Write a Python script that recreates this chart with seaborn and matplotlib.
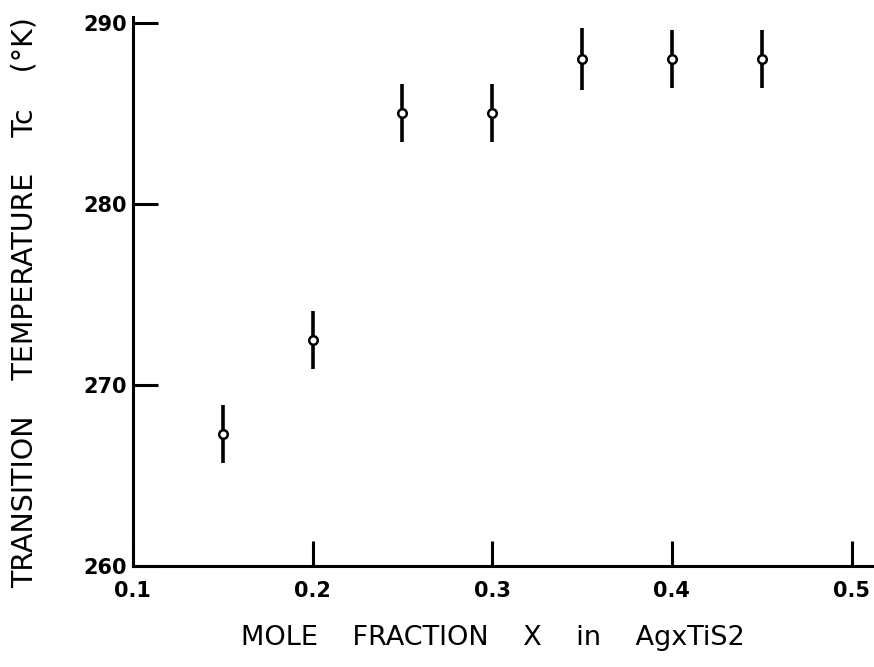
import matplotlib
matplotlib.use("Agg")
import matplotlib.pyplot as plt
import seaborn as sns
import numpy as np
import pandas as pd

# Data
mole_fraction = [0.15, 0.20, 0.25, 0.30, 0.35, 0.40, 0.45]
tc_kelvin = [267.3, 272.5, 285.0, 285.0, 288.0, 288.0, 288.0]
tc_error = [1.6, 1.6, 1.6, 1.6, 1.7, 1.6, 1.6]
x_ticks = [0.1, 0.2, 0.3, 0.4, 0.5]
x_tick_labels = ["0.1", "0.2", "0.3", "0.4", "0.5"]
y_ticks = [260, 270, 280, 290]

df = pd.DataFrame({"x": mole_fraction, "tc": tc_kelvin, "err": tc_error})

sns.set_theme(style="white")
plt.rcParams["font.family"] = ["DejaVu Sans"]
plt.rcParams["text.color"] = "black"
plt.rcParams["axes.labelcolor"] = "black"

fig = plt.figure(figsize=(8.74, 6.67), dpi=100)
ax = fig.add_axes([0.152, 0.1514, 0.846, 0.823])

ax.errorbar(df["x"], df["tc"], yerr=df["err"], fmt="none", ecolor="black",
            elinewidth=2.6, capsize=0, zorder=2)
sns.scatterplot(data=df, x="x", y="tc", ax=ax, marker="o", s=38,
                facecolor="white", edgecolor="black", linewidth=1.8, zorder=3)

ax.set_xlim(0.1, 0.5115)
ax.set_ylim(260, 290.3)
ax.set_xticks(x_ticks)
ax.set_xticklabels(x_tick_labels)
ax.set_yticks(y_ticks)

for s in ["top", "right"]:
    ax.spines[s].set_visible(False)
for s in ["left", "bottom"]:
    ax.spines[s].set_linewidth(2.2)
    ax.spines[s].set_color("black")

ax.tick_params(axis="both", which="major", bottom=True, left=True, top=False, right=False,
               direction="in", length=18, width=2.2, color="black",
               labelsize=15, labelcolor="black")
ax.tick_params(axis="y", pad=4)
ax.tick_params(axis="x", pad=11)
for lab in ax.get_xticklabels() + ax.get_yticklabels():
    lab.set_fontweight("bold")

ax.set_xlabel("MOLE    FRACTION    X    in    AgxTiS2", fontsize=19.5, color="black")
ax.xaxis.set_label_coords(0.487, -0.108)
ax.set_ylabel("TRANSITION    TEMPERATURE    Tc    (°K)", fontsize=20.5, color="black")
ax.yaxis.set_label_coords(-0.128, 0.48)
ax.grid(False)

fig.savefig("out.png", dpi=100)
